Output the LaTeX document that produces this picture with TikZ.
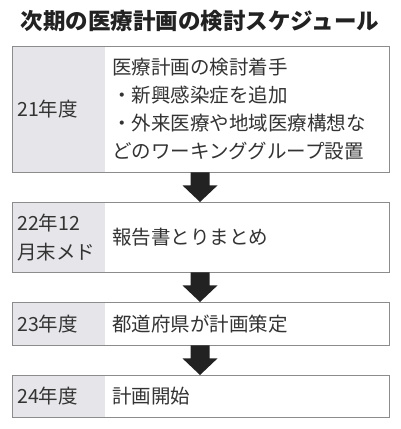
\documentclass[tikz,border=0pt]{standalone}
\usepackage{fontspec}
\setmainfont{Noto Sans CJK JP}
\usetikzlibrary{calc}
\definecolor{labgray}{HTML}{E6E6EA}
\definecolor{bordc}{HTML}{8C8C8C}
\definecolor{txtc}{HTML}{333333}
\definecolor{titc}{HTML}{222222}
\definecolor{arrc}{HTML}{222222}
\newcommand\fatarrow[2]{%
  \fill[arrc] ($(#1)+(-9.5,0)$) -- ($(#1)+(9.5,0)$) -- ($(#1)+(9.5,13)$) -- ($(#1)+(17.5,13)$)
   -- (#2) -- ($(#1)+(-17.5,13)$) -- ($(#1)+(-9.5,13)$) -- cycle;}
\begin{document}
\begin{tikzpicture}[x=1pt,y=-1pt,
  lab/.style={fill=labgray, anchor=north west, text width=83pt, inner xsep=5pt, inner ysep=0pt,
    align=left, text=txtc, font=\fontsize{19.5}{29}\selectfont},
  cont/.style={fill=white, anchor=north west, text width=270pt, inner xsep=7pt, inner ysep=0pt,
    align=left, text=txtc, font=\fontsize{19.5}{28}\selectfont},
  border/.style={draw=bordc, line width=1pt}]
\fill[white] (0,0) rectangle (400,429);
\useasboundingbox (0,0) rectangle (400,429);
\coordinate (mid) at (200,0);
\node[font=\fontsize{22.5}{27}\selectfont\bfseries, text=titc] (title) at (200,21) {次期の医療計画の検討スケジュール};
% box 1
\node[lab, minimum height=126pt] (l1) at (12,46) {21年度};
\node[cont, minimum height=126pt] (c1) at (105,46) {医療計画の検討着手\\・新興感染症を追加\\・外来医療や地域医療構想な\\どのワーキンググループ設置};
\draw[border] (l1.north west) rectangle (c1.south east);
% box 2
\node[lab, minimum height=70pt] (l2) at (12,202) {22年12\\月末メド};
\node[cont, minimum height=70pt] (c2) at (105,202) {報告書とりまとめ};
\draw[border] (l2.north west) rectangle (c2.south east);
% box 3
\node[lab, minimum height=43pt] (l3) at (12,302) {23年度};
\node[cont, minimum height=43pt] (c3) at (105,302) {都道府県が計画策定};
\draw[border] (l3.north west) rectangle (c3.south east);
% box 4
\node[lab, minimum height=42pt] (l4) at (12,375) {24年度};
\node[cont, minimum height=42pt] (c4) at (105,375) {計画開始};
\draw[border] (l4.north west) rectangle (c4.south east);
% arrows
\fatarrow{c1.south -| mid}{c2.north -| mid}
\fatarrow{c2.south -| mid}{c3.north -| mid}
\fatarrow{c3.south -| mid}{c4.north -| mid}
\end{tikzpicture}
\end{document}
